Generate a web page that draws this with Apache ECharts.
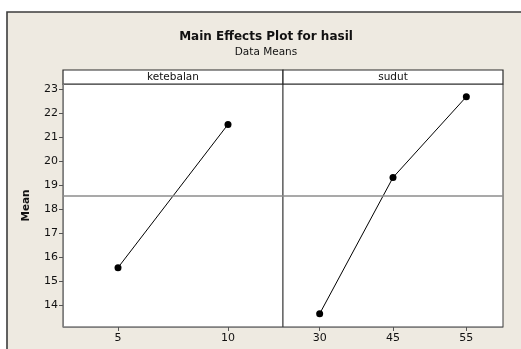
<!DOCTYPE html>
<html>
<head>
<meta charset="utf-8">
<script src="https://cdn.jsdelivr.net/npm/echarts@6/dist/echarts.min.js"></script>
<style>
  html, body { margin: 0; padding: 0; background: #ffffff; }
  #chart { width: 521px; height: 349px; }
</style>
</head>
<body>
<div id="chart"></div>
<script>
// Factor levels and their data means
const ketebalanLevels = ['5', '10'];
const ketebalanMeans = [15.56, 21.52];
const sudutLevels = ['30', '45', '55'];
const sudutMeans = [13.64, 19.31, 22.67];
const meanTicks = [14, 15, 16, 17, 18, 19, 20, 21, 22, 23];
const panelNames = ['ketebalan', 'sudut'];

// Grand mean for the reference line
const avg = a => a.reduce((s, v) => s + v, 0) / a.length;
const grandMean = (avg(ketebalanMeans) + avg(sudutMeans)) / 2;

// Panel layout (pixels)
const plotLeft = 63, panelW = 220, plotTop = 84, plotBottom = 327, stripH = 14;
const W = 521, H = 349;
const font = 'DejaVu Sans';
const yMin = 13.09, yMax = 23.2;

const chart = echarts.init(document.getElementById('chart'), null, { renderer: 'canvas' });

function grid(i) {
  return {
    left: plotLeft + i * panelW,
    width: panelW,
    top: plotTop,
    height: plotBottom - plotTop,
    show: true,
    backgroundColor: '#ffffff',
    borderColor: '#3a3a3a',
    borderWidth: 1
  };
}

function xAxis(i, levels) {
  return {
    type: 'category',
    gridIndex: i,
    data: levels,
    boundaryGap: true,
    axisLine: { show: true, lineStyle: { color: '#808080', width: 1 } },
    axisTick: { show: true, alignWithLabel: true, length: 4, lineStyle: { color: '#555' } },
    axisLabel: { fontFamily: font, fontSize: 11, color: '#111', margin: 6 },
    splitLine: { show: false }
  };
}

function yAxis(i) {
  return {
    type: 'value',
    gridIndex: i,
    min: yMin,
    max: yMax,
    name: i === 0 ? 'Mean' : '',
    nameLocation: 'middle',
    nameGap: 31,
    nameRotate: 90,
    nameTextStyle: { fontFamily: font, fontSize: 10.5, fontWeight: 'bold', color: '#111' },
    axisLine: { show: i === 0, lineStyle: { color: '#808080', width: 1 } },
    axisTick: { show: i === 0, length: 4, lineStyle: { color: '#555' }, customValues: meanTicks },
    axisLabel: { show: i === 0, fontFamily: font, fontSize: 11, color: '#111', margin: 5, customValues: meanTicks },
    splitLine: { show: false }
  };
}

function series(i, values) {
  return {
    type: 'line',
    xAxisIndex: i,
    yAxisIndex: i,
    data: values,
    symbol: 'circle',
    symbolSize: 7,
    itemStyle: { color: '#000' },
    lineStyle: { color: '#000', width: 1 },
    animation: false,
    markLine: {
      silent: true,
      symbol: 'none',
      label: { show: false },
      lineStyle: { color: '#8c8c8c', width: 1.6, type: 'solid' },
      data: [{ yAxis: grandMean }]
    }
  };
}

const strips = panelNames.map((name, i) => ({
  type: 'group',
  z: 100,
  children: [
    {
      type: 'rect',
      shape: { x: plotLeft + i * panelW, y: plotTop - stripH, width: panelW, height: stripH },
      style: { fill: '#ffffff', stroke: '#2a2a2a', lineWidth: 1.2 }
    },
    {
      type: 'text',
      x: plotLeft + i * panelW + panelW / 2,
      y: plotTop - stripH / 2,
      style: {
        text: name, fontFamily: font, fontSize: 10.5, fill: '#111',
        align: 'center', verticalAlign: 'middle'
      }
    }
  ]
}));

chart.setOption({
  animation: false,
  backgroundColor: '#ffffff',
  graphic: [
    {
      type: 'rect', z: -10,
      shape: { x: 7, y: 12, width: W + 40, height: H + 40 },
      style: { fill: '#eeeae1', stroke: '#3c3c3c', lineWidth: 1.6 }
    },
    {
      type: 'text', z: 100,
      x: 266, y: 37,
      style: {
        text: 'Main Effects Plot for hasil', fontFamily: font, fontSize: 12,
        fontWeight: 'bold', fill: '#111', align: 'center', verticalAlign: 'middle'
      }
    },
    {
      type: 'text', z: 100,
      x: 266, y: 52,
      style: {
        text: 'Data Means', fontFamily: font, fontSize: 10.5, fill: '#111',
        align: 'center', verticalAlign: 'middle'
      }
    },
    ...strips
  ],
  grid: [grid(0), grid(1)],
  xAxis: [xAxis(0, ketebalanLevels), xAxis(1, sudutLevels)],
  yAxis: [yAxis(0), yAxis(1)],
  series: [series(0, ketebalanMeans), series(1, sudutMeans)]
});
</script>
</body>
</html>
